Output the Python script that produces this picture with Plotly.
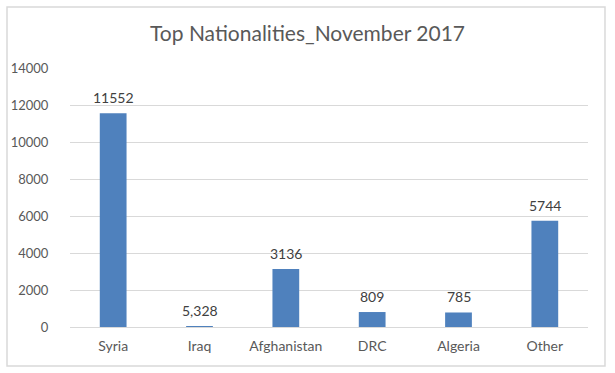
import plotly.graph_objects as go

categories = ["Syria", "Iraq", "Afghanistan", "DRC", "Algeria", "Other"]
values = [11552, 50, 3136, 809, 785, 5744]
value_labels = ["11552", "5,328", "3136", "809", "785", "5744"]
y_ticks = [0, 2000, 4000, 6000, 8000, 10000, 12000, 14000]

FONT = "Lato, 'Open Sans', sans-serif"

fig = go.Figure(go.Bar(
    x=categories, y=values,
    marker=dict(color="#4F81BD", line=dict(width=0)),
    width=0.31,
))

annotations = [
    dict(x=c, y=v, text=t, xref="x", yref="y", showarrow=False,
         yanchor="bottom", yshift=5,
         font=dict(size=14, color="#404040", family=FONT))
    for c, v, t in zip(categories, values, value_labels)
]

fig.update_layout(
    width=615, height=373,
    margin=dict(l=70, r=27, t=68, b=46),
    paper_bgcolor="white", plot_bgcolor="white",
    title=dict(text="Top Nationalities_November 2017", x=0.5, xanchor="center",
               y=0.91, yanchor="middle",
               font=dict(size=21, color="#595959", family=FONT)),
    showlegend=False,
    annotations=annotations,
    xaxis=dict(showgrid=False, showline=False, ticks="outside", ticklen=6,
               tickcolor="rgba(0,0,0,0)",
               tickfont=dict(size=14, color="#595959", family=FONT)),
    yaxis=dict(range=[0, 14000], tickvals=y_ticks, tickformat="d",
               showgrid=True, gridcolor="#D9D9D9", gridwidth=1,
               zeroline=True, zerolinecolor="#D9D9D9", zerolinewidth=1,
               ticks="outside", ticklen=18, tickcolor="rgba(0,0,0,0)",
               tickfont=dict(size=13, color="#595959", family=FONT)),
    shapes=[dict(type="rect", xref="paper", yref="paper",
                 x0=-0.1216, x1=1.0328, y0=-0.1506, y1=1.2355,
                 line=dict(color="#D9D9D9", width=1.5), fillcolor="rgba(0,0,0,0)",
                 layer="below")],
)

fig.write_html("out.html", config={"displayModeBar": False},
               post_script="document.body.style.margin='0';")
